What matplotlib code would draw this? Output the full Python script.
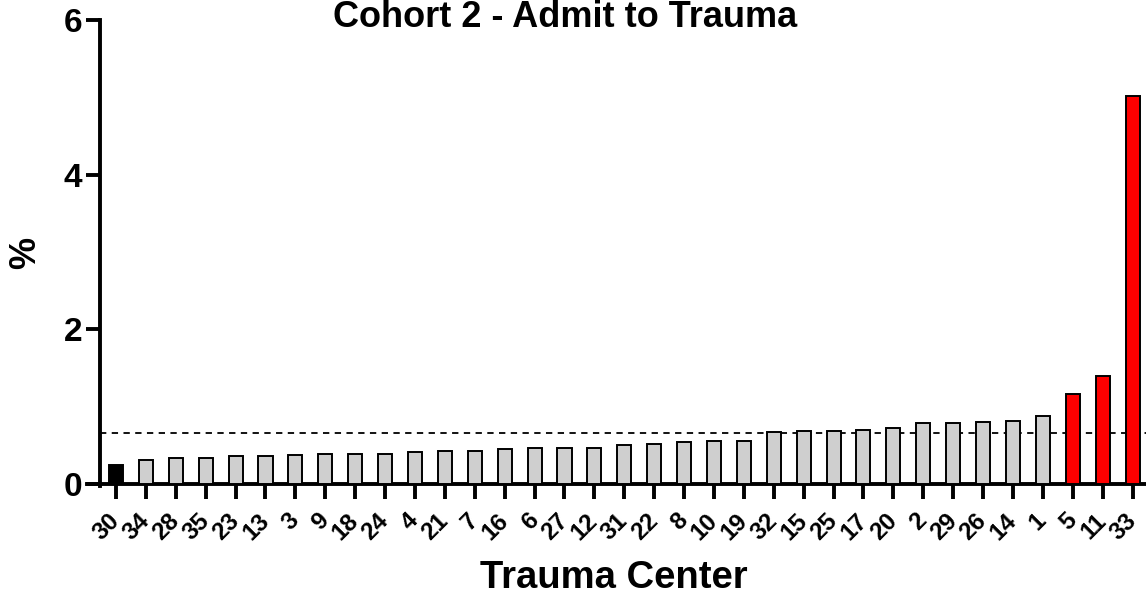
import matplotlib
matplotlib.use("Agg")
import matplotlib.pyplot as plt

plt.rcParams["font.family"] = ["Liberation Sans", "DejaVu Sans"]
plt.rcParams["font.weight"] = "bold"

# trauma centres, sorted by admit-to-trauma percentage
centers = ["30", "34", "28", "35", "23", "13", "3", "9", "18", "24", "4", "21", "7", "16", "6",
           "27", "12", "31", "22", "8", "10", "19", "32", "15", "25", "17", "20", "2", "29", "26",
           "14", "1", "5", "11", "33"]
pct = [0.25, 0.31, 0.33, 0.34, 0.36, 0.36, 0.37, 0.39, 0.39, 0.39, 0.41, 0.43, 0.43, 0.45, 0.46,
       0.46, 0.47, 0.50, 0.52, 0.54, 0.55, 0.56, 0.67, 0.68, 0.69, 0.70, 0.72, 0.79, 0.79, 0.80,
       0.82, 0.88, 1.16, 1.40, 5.02]
group = ["low"] + ["mid"] * 31 + ["high"] * 3
mean_line = 0.66
yticks = [0, 2, 4, 6]

colors = {"low": "black", "mid": "#cfcfcf", "high": "#ff0000"}

fig = plt.figure(figsize=(11.46, 5.95), dpi=100)
ax = fig.add_axes([87 / 1146, 1 - 484 / 595, 1 - 87 / 1146, (484 - 20) / 595])

x = list(range(len(centers)))
ax.bar(x, pct, width=0.47, color=[colors[g] for g in group], edgecolor="black", linewidth=1.4,
       zorder=3)
ax.axhline(mean_line, xmin=0.012, color="black", lw=1.3, ls=(0, (3.5, 3)), zorder=2)

ax.set_xlim(-0.97, 34.45)
ax.set_ylim(0, 6)
ax.set_yticks(yticks)
ax.set_xticks(x)
ax.set_xticklabels(centers, rotation=45, ha="right", va="center", rotation_mode="anchor",
                   fontsize=17.5, fontweight="bold")
ax.tick_params(axis="x", length=11, width=2.8, pad=13)
ax.tick_params(axis="y", length=10, width=2.8, labelsize=24, pad=3)
for lbl in ax.get_yticklabels():
    lbl.set_fontweight("bold")

for s in ("top", "right"):
    ax.spines[s].set_visible(False)
ax.spines["left"].set_position(("data", -0.53))
ax.spines["left"].set_linewidth(2.8)
ax.spines["bottom"].set_linewidth(2.8)
ax.spines["left"].set_bounds(-0.03, 6)

fig.text(0.022, 1 - 253 / 595, "%", fontsize=26, fontweight="bold", rotation=90,
         ha="center", va="center")
fig.text(614 / 1146, 1 - 588 / 595, "Trauma Center", fontsize=27.5, fontweight="bold",
         ha="center", va="baseline")
fig.text(565 / 1146, 1 - 27 / 595, "Cohort 2 - Admit to Trauma", fontsize=26, fontweight="bold",
         ha="center", va="baseline")

fig.savefig("out.png", dpi=100)
